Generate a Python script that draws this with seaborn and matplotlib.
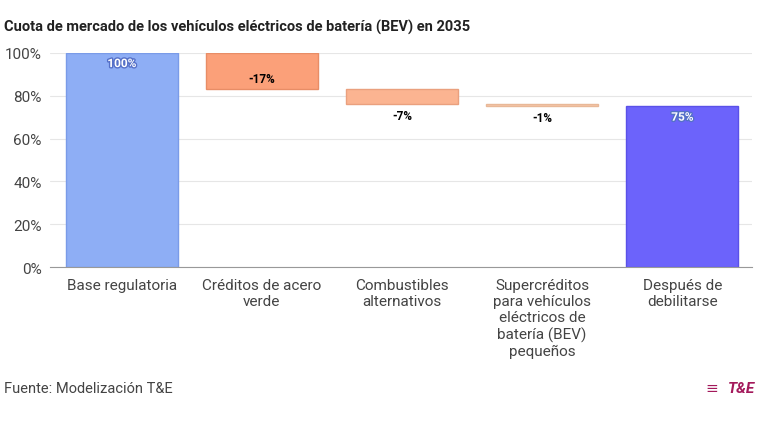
import matplotlib
matplotlib.use("Agg")
import matplotlib.pyplot as plt
import matplotlib.patheffects as pe
import seaborn as sns

sns.set_style("white")
plt.rcParams['font.family'] = ['Roboto', 'DejaVu Sans']

categories = ["Base regulatoria", "Créditos de acero\nverde", "Combustibles\nalternativos",
              "Supercréditos\npara vehículos\neléctricos de\nbatería (BEV)\npequeños",
              "Después de\ndebilitarse"]
changes = [100, -17, -7, -1, 75]
labels = ["100%", "-17%", "-7%", "-1%", "75%"]
colors = ["#8eaef5", "#fba079", "#fbb491", "#f8c8aa", "#6c63fb"]
edge = ["#7a9be8", "#e88d66", "#eaa07e", "#e8b898", "#5a51e8"]

# waterfall: bottoms and heights
bottoms, heights = [], []
level = 0
for i, c in enumerate(changes):
    if i == 0 or i == len(changes) - 1:
        bottoms.append(0); heights.append(c); level = c
    else:
        bottoms.append(level + c); heights.append(-c); level += c

fig = plt.figure(figsize=(7.6, 4.27), dpi=100)
ax = fig.add_axes([0.066, 0.372, 0.924, 0.502])
sns.barplot(x=categories, y=heights, hue=categories, palette=colors, saturation=1,
            legend=False, width=0.8, ax=ax, linewidth=1)
# shift each bar up to its waterfall base
for p, ec, b in zip(ax.patches, edge, bottoms):
    p.set_edgecolor(ec)
    p.set_y(b)

for i, (b, h, t) in enumerate(zip(bottoms, heights, labels)):
    if i in (0, 4):
        ax.text(i, b + h - 2, t, ha="center", va="top", color="white", fontsize=8.5,
                fontweight="bold", path_effects=[pe.withStroke(linewidth=2, foreground="#5570c8")])
    elif i == 1:
        ax.text(i, b + 2, t, ha="center", va="bottom", color="black", fontsize=8.5, fontweight="bold")
    else:
        ax.text(i, b - 2, t, ha="center", va="top", color="black", fontsize=8.5, fontweight="bold")

ax.set_ylim(0, 100)
ax.set_xlim(-0.51, 4.5)
ax.set_yticks(range(0, 101, 20))
ax.set_yticklabels([f"{v}%" for v in range(0, 101, 20)], fontsize=11, color="#444444")
ax.tick_params(axis="x", labelsize=11, colors="#444444", length=4, color="#999999")
ax.tick_params(axis="y", length=0, pad=6)
ax.grid(axis="y", color="#e6e6e6", linewidth=0.8)
ax.set_axisbelow(True)
for s in ["top", "right", "left"]:
    ax.spines[s].set_visible(False)
ax.spines["bottom"].set_color("#999999")

fig.text(0.005, 0.925, "Cuota de mercado de los vehículos eléctricos de batería (BEV) en 2035",
         fontsize=10.5, fontweight="bold", color="#222222")
fig.text(0.005, 0.08, "Fuente: Modelización T&E", fontsize=10.5, color="#444444")
fig.text(0.993, 0.08, "T&", fontsize=11, fontweight="bold", style="italic",
         color="#a3195b", ha="right", alpha=0)
fig.text(0.993, 0.08, "T&E", fontsize=11, fontweight="bold", style="italic",
         color="#a3195b", ha="right")
fig.text(0.945, 0.08, "≡", fontsize=11, color="#a3195b", ha="right")

fig.savefig("out.png", dpi=100)
